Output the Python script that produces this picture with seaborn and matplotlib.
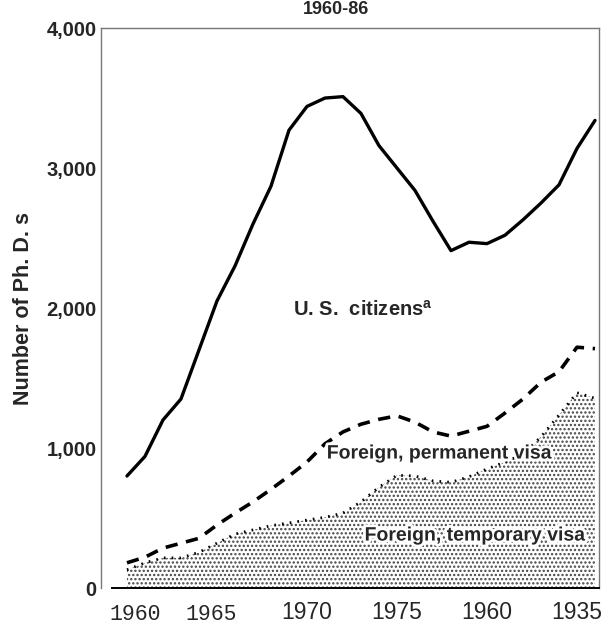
import matplotlib
matplotlib.use("Agg")
import matplotlib.pyplot as plt
import matplotlib.patheffects as pe
import matplotlib.transforms as mtransforms
import seaborn as sns
import pandas as pd

# data
years = list(range(1960, 1987))
us_citizens = [800, 940, 1200, 1350, 1700, 2050, 2300, 2600, 2870, 3270,
               3440, 3500, 3510, 3390, 3160, 3000, 2840, 2620, 2410, 2470,
               2460, 2520, 2630, 2750, 2880, 3140, 3340]
perm_visa = [180, 220, 285, 320, 355, 450, 535, 615, 705, 800,
             900, 1030, 1115, 1170, 1205, 1230, 1185, 1115, 1085, 1120,
             1155, 1250, 1350, 1470, 1545, 1720, 1710]
temp_visa = [130, 180, 215, 215, 255, 320, 385, 415, 445, 465,
             485, 505, 535, 615, 720, 805, 800, 765, 755, 795,
             850, 900, 955, 1080, 1235, 1395, 1355]
tick_years = [1960, 1965, 1970, 1975, 1980, 1985]
tick_labels = ["1960", "1965", "1970", "1975", "1960", "1935"]
y_ticks = [0, 1000, 2000, 3000, 4000]
y_labels = ["0", "1,000", "2,000", "3,000", "4,000"]

df = pd.DataFrame({"year": years, "us": us_citizens,
                   "perm": perm_visa, "temp": temp_visa})

sns.set_theme(style="white")
plt.rcParams["font.family"] = ["Liberation Sans", "DejaVu Sans"]
plt.rcParams["mathtext.fontset"] = "custom"
plt.rcParams["mathtext.bf"] = "Liberation Sans:bold"
plt.rcParams["hatch.linewidth"] = 1.1
plt.rcParams["hatch.color"] = "#444444"

fig = plt.figure(figsize=(6.05, 6.26), dpi=100)
ax = fig.add_axes([0.167, 0.0607, 0.823, 0.8945])

# stippled area for temporary visa
ax.fill_between(df["year"], 0, df["temp"], facecolor="white",
                edgecolor="#444444", hatch="....", linewidth=0)
sns.lineplot(data=df, x="year", y="temp", ax=ax, color="black",
             linestyle=(0, (0.6, 2.2)), linewidth=2.0)
sns.lineplot(data=df, x="year", y="perm", ax=ax, color="black",
             linestyle=(0, (3.4, 2.4)), linewidth=2.6)
sns.lineplot(data=df, x="year", y="us", ax=ax, color="black",
             linewidth=2.4)

ax.set_xlim(1958.56, 1986.22)
ax.set_ylim(0, 4000)

ax.set_yticks(y_ticks)
ax.set_yticklabels(y_labels, fontsize=14.5, fontweight="bold")
ax.set_xticks(tick_years)
ax.set_xticklabels(tick_labels)
ax.tick_params(axis="y", length=0, pad=3)
ax.tick_params(axis="x", direction="in", length=4, width=1,
               color="black", pad=9)

for i, lab in enumerate(ax.get_xticklabels()):
    if i < 2:
        lab.set_family(["Liberation Mono", "DejaVu Sans Mono"])
        lab.set_fontsize(15.5)
        dx = 8 if i == 0 else -6
        lab.set_transform(lab.get_transform() + mtransforms.ScaledTranslation(
            dx / 100, -3 / 100, fig.dpi_scale_trans))
    else:
        lab.set_family(["Liberation Sans"])
        lab.set_fontsize(16.5)

for side in ["left", "top", "right"]:
    ax.spines[side].set_color("#777777")
    ax.spines[side].set_linewidth(1.0)
ax.spines["bottom"].set_color("black")
ax.spines["bottom"].set_linewidth(1.4)
ax.spines["bottom"].set_bounds(1959.17, 1986.22)

ax.set_xlabel("")
ax.set_ylabel("Number of Ph. D. s", fontsize=15.5, fontweight="bold",
              labelpad=9)

halo = [pe.withStroke(linewidth=4, foreground="white")]
ax.text(1969.2, 1990, r"U. S.  citizens$^{\mathbf{a}}$", fontsize=14.5,
        fontweight="bold", ha="left", va="center")
ax.text(1971.1, 957, "Foreign, permanent visa", fontsize=14,
        fontweight="bold", ha="left", va="center", path_effects=halo)
ax.text(1973.2, 371, "Foreign, temporary visa", fontsize=14,
        fontweight="bold", ha="left", va="center", path_effects=halo)

fig.text(336 / 605, 1 - 9 / 626, "1960-86", fontsize=13,
         fontweight="bold", ha="center", va="center")

fig.savefig("out.png", dpi=100)
